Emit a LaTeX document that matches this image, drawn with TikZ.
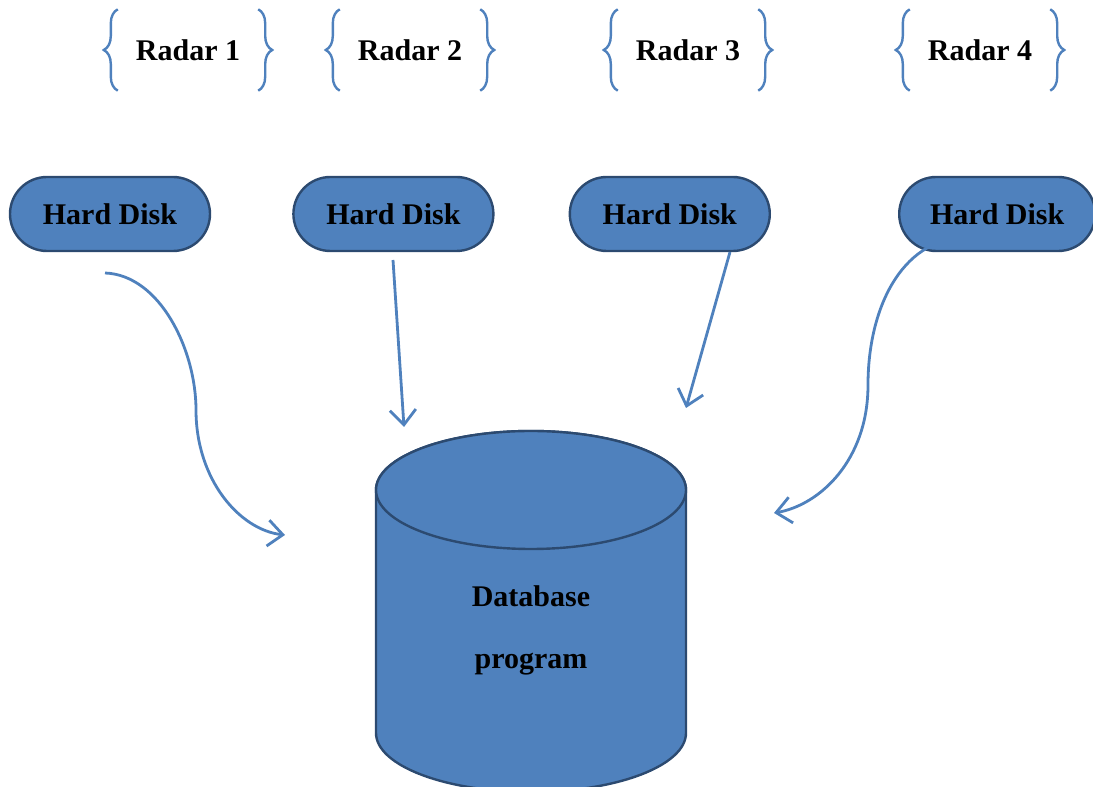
\documentclass[tikz,border=0pt]{standalone}
\usepackage{fontspec}
\setmainfont{Liberation Serif}
\usetikzlibrary{arrows.meta,positioning,shapes.misc,decorations.pathreplacing}
\definecolor{diskblue}{HTML}{4F81BD}
\definecolor{diskline}{HTML}{2C4A70}

\begin{document}
\begin{tikzpicture}[
    x=1pt,y=1pt,
    node distance=80pt,
    disk/.style={rounded rectangle,draw=diskline,line width=2.4pt,fill=diskblue,minimum width=200pt,minimum height=74pt,inner sep=0pt,font=\bfseries\fontsize{30}{36}\selectfont},
    radar/.style={minimum width=140pt,minimum height=81pt,inner sep=0pt,font=\bfseries\fontsize{30}{36}\selectfont},
    curly/.style={draw=diskblue,line width=2.4pt,decorate,decoration={brace,amplitude=14pt}},
    dbshape/.style={draw=diskline,line width=2.4pt,fill=diskblue},
    flow/.style={draw=diskblue,line width=2.8pt,-{Straight Barb[length=15pt,width=26pt]}}
  ]
  \useasboundingbox (0,0) rectangle (1093,787);

  % Radars
  \node[radar] (r1) at (188,737) {Radar 1};
  \node[radar] (r2) at (410,737) {Radar 2};
  \node[radar] (r3) at (688,737) {Radar 3};
  \node[radar] (r4) at (980,737) {Radar 4};
  \foreach \r in {r1,r2,r3,r4} {
    \draw[curly] (\r.south west) -- (\r.north west);
    \draw[curly] (\r.north east) -- (\r.south east);
  }

  % Hard disks
  \node[disk] (hd1) at (110,573) {Hard Disk};
  \node[disk,right=81pt of hd1] (hd2) {Hard Disk};
  \node[disk,right=74pt of hd2] (hd3) {Hard Disk};
  \node[disk,right=127pt of hd3,minimum width=196pt] (hd4) {Hard Disk};

  % Database cylinder
  \path[dbshape] (376,297) -- (376,54) arc[start angle=180,end angle=360,x radius=155,y radius=59]
    -- (686,297) arc[start angle=0,end angle=180,x radius=155,y radius=59] -- cycle;
  \path[dbshape] (531,297) ellipse[x radius=155,y radius=59];
  \node[align=center,font=\bfseries\fontsize{30}{62}\selectfont] (db) at (531,157) {Database\\program};

  % Arrow ends
  \coordinate (s1) at (105,514);
  \coordinate (e1) at (285,252);
  \coordinate (s2) at (393,527);
  \coordinate (e2) at (404,360);
  \coordinate (s3) at (730,535);
  \coordinate (e3) at (686,379);
  \coordinate (s4) at (965,550);
  \coordinate (e4) at (774,274);

  % Disks to database
  \draw[flow] (s1) .. controls (160,512) and (196,437) .. (196,377)
    .. controls (196,307) and (240,257) .. (e1);
  \draw[flow] (s2) -- (e2);
  \draw[flow] (s3) -- (e3);
  \draw[flow] (s4) .. controls (900,547) and (868,477) .. (868,402)
    .. controls (868,327) and (820,282) .. (e4);
\end{tikzpicture}
\end{document}
